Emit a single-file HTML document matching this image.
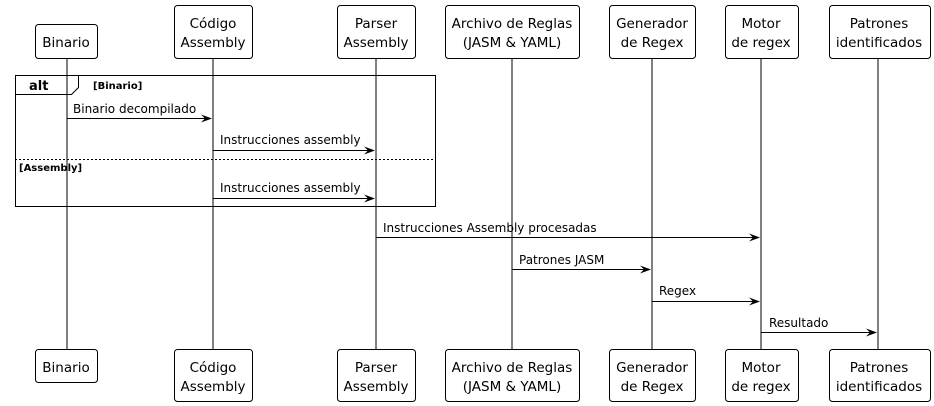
<!DOCTYPE html>
<html><head><meta charset="utf-8"><style>
html,body{margin:0;padding:0;background:#fff;}
svg{display:block;}
text{font-family:"DejaVu Sans","Liberation Sans",sans-serif;font-size:13.5px;fill:#000;}
.s{font-size:12px;}
.b{font-size:10px;font-weight:bold;}
.alt{font-size:13px;font-weight:bold;}
</style></head><body>
<svg width="934" height="406" viewBox="0 0 934 406" xmlns="http://www.w3.org/2000/svg">
<g stroke="#000" stroke-width="1" fill="none">
<line x1="67" y1="58" x2="67" y2="349"/>
<line x1="213" y1="58" x2="213" y2="349"/>
<line x1="376" y1="58" x2="376" y2="349"/>
<line x1="512" y1="58" x2="512" y2="349"/>
<line x1="652" y1="58" x2="652" y2="349"/>
<line x1="761" y1="58" x2="761" y2="349"/>
<line x1="878" y1="58" x2="878" y2="349"/>
</g>
<g stroke="#000" stroke-width="1" fill="#fff">
<rect x="35.5" y="24.5" width="62" height="34" rx="3"/>
<rect x="174.5" y="5.5" width="78" height="53" rx="3"/>
<rect x="337.5" y="5.5" width="78" height="53" rx="3"/>
<rect x="445.5" y="5.5" width="134" height="53" rx="3"/>
<rect x="609.5" y="5.5" width="86" height="53" rx="3"/>
<rect x="725.5" y="5.5" width="73" height="53" rx="3"/>
<rect x="829.5" y="5.5" width="101" height="53" rx="3"/>
<rect x="35.5" y="349.5" width="62" height="33" rx="3"/>
<rect x="174.5" y="349.5" width="78" height="52" rx="3"/>
<rect x="337.5" y="349.5" width="78" height="52" rx="3"/>
<rect x="445.5" y="349.5" width="134" height="52" rx="3"/>
<rect x="609.5" y="349.5" width="86" height="52" rx="3"/>
<rect x="725.5" y="349.5" width="73" height="52" rx="3"/>
<rect x="829.5" y="349.5" width="101" height="52" rx="3"/>
</g>
<g text-anchor="middle">
<text x="66" y="47">Binario</text>
<text x="213" y="28">Código</text><text x="213" y="47">Assembly</text>
<text x="376" y="28">Parser</text><text x="376" y="47">Assembly</text>
<text x="512" y="28">Archivo de Reglas</text><text x="512" y="47">(JASM &amp; YAML)</text>
<text x="652" y="28">Generador</text><text x="652" y="47">de Regex</text>
<text x="761" y="28">Motor</text><text x="761" y="47">de regex</text>
<text x="879" y="28">Patrones</text><text x="879" y="47">identificados</text>
<text x="66" y="372">Binario</text>
<text x="213" y="372">Código</text><text x="213" y="391">Assembly</text>
<text x="376" y="372">Parser</text><text x="376" y="391">Assembly</text>
<text x="512" y="372">Archivo de Reglas</text><text x="512" y="391">(JASM &amp; YAML)</text>
<text x="652" y="372">Generador</text><text x="652" y="391">de Regex</text>
<text x="761" y="372">Motor</text><text x="761" y="391">de regex</text>
<text x="879" y="372">Patrones</text><text x="879" y="391">identificados</text>
</g>
<g stroke="#000" fill="none">
<rect x="15.5" y="75.5" width="420" height="131"/>
<polyline points="15.5,94.5 71.5,94.5 78.5,87.5 78.5,75.5"/>
<line x1="15" y1="159.5" x2="435" y2="159.5" stroke-dasharray="2,2"/>
</g>
<text class="alt" x="29" y="90">alt</text>
<text class="b" x="93" y="89">[Binario]</text>
<text class="b" x="19" y="171">[Assembly]</text>
<g stroke="#000" fill="none">
<line x1="67" y1="118.5" x2="211" y2="118.5"/>
<line x1="213" y1="150.5" x2="374" y2="150.5"/>
<line x1="213" y1="198.5" x2="374" y2="198.5"/>
<line x1="376" y1="237.5" x2="759" y2="237.5"/>
<line x1="512" y1="269.5" x2="650" y2="269.5"/>
<line x1="652" y1="301.5" x2="759" y2="301.5"/>
<line x1="761" y1="332.5" x2="876" y2="332.5"/>
</g>
<g fill="#000">
<polygon points="201,114.5 212,118.5 201,122.5 205,118.5"/>
<polygon points="364,146.5 375,150.5 364,154.5 368,150.5"/>
<polygon points="364,194.5 375,198.5 364,202.5 368,198.5"/>
<polygon points="749,233.5 760,237.5 749,241.5 753,237.5"/>
<polygon points="640,265.5 651,269.5 640,273.5 644,269.5"/>
<polygon points="749,297.5 760,301.5 749,305.5 753,301.5"/>
<polygon points="866,328.5 877,332.5 866,336.5 870,332.5"/>
</g>
<text class="s" x="73" y="113">Binario decompilado</text>
<text class="s" x="220" y="144">Instrucciones assembly</text>
<text class="s" x="220" y="192">Instrucciones assembly</text>
<text class="s" x="383" y="232">Instrucciones Assembly procesadas</text>
<text class="s" x="519" y="264">Patrones JASM</text>
<text class="s" x="659" y="295">Regex</text>
<text class="s" x="769" y="327">Resultado</text>
</svg>
</body></html>
